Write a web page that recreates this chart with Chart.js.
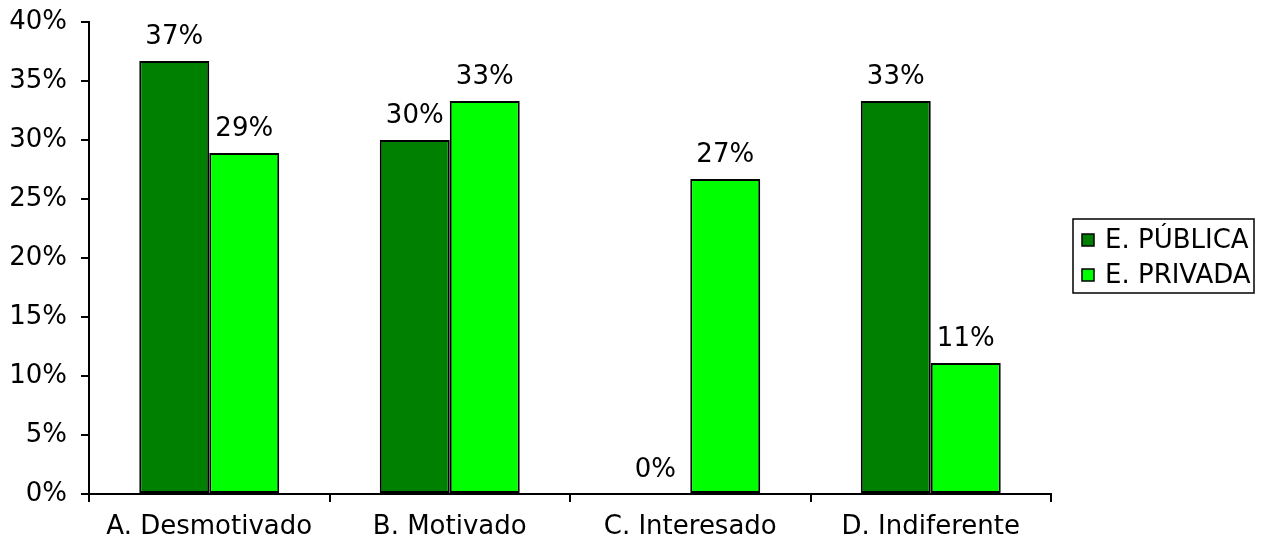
<!DOCTYPE html>
<html>
<head>
<meta charset="utf-8">
<script src="https://cdn.jsdelivr.net/npm/chart.js@4.4.1/dist/chart.umd.min.js"></script>
<style>
  html, body { margin: 0; padding: 0; background: #fff; }
  #wrap { width: 1263px; height: 540px; }
</style>
</head>
<body>
<div id="wrap"><canvas id="chart" width="1263" height="540"></canvas></div>
<script>
const categories = ['A. Desmotivado', 'B. Motivado', 'C. Interesado', 'D. Indiferente'];
const publica = [36.7, 30.0, 0, 33.3];
const privada = [28.9, 33.3, 26.7, 11.1];
const seriesNames = ['E. PÚBLICA', 'E. PRIVADA'];
const seriesColors = ['#008000', '#00FF00'];

const FONT = '"DejaVu Sans", Verdana, sans-serif';
const SIZE = 26;

// value labels above each bar
const barLabels = {
  id: 'barLabels',
  afterDatasetsDraw(chart) {
    const ctx = chart.ctx;
    ctx.save();
    ctx.font = SIZE + 'px ' + FONT;
    ctx.fillStyle = '#000';
    ctx.textAlign = 'center';
    ctx.textBaseline = 'alphabetic';
    chart.data.datasets.forEach((ds, i) => {
      chart.getDatasetMeta(i).data.forEach((bar, j) => {
        ctx.fillText(Math.round(ds.data[j]) + '%', bar.x, bar.y - 17);
      });
    });
    ctx.restore();
  }
};

// boxed legend on the right
const boxLegend = {
  id: 'boxLegend',
  afterDraw(chart) {
    const ctx = chart.ctx;
    const x = 1073, y = 219, w = 181, h = 74;
    ctx.save();
    ctx.lineWidth = 1.5;
    ctx.strokeStyle = '#000';
    ctx.strokeRect(x, y, w, h);
    ctx.font = SIZE + 'px ' + FONT;
    ctx.textBaseline = 'middle';
    ctx.textAlign = 'left';
    chart.data.datasets.forEach((ds, i) => {
      const cy = y + 21 + i * 35;
      ctx.fillStyle = ds.backgroundColor;
      ctx.fillRect(x + 9, cy - 6, 12, 12);
      ctx.lineWidth = 1.5;
      ctx.strokeRect(x + 9, cy - 6, 12, 12);
      ctx.fillStyle = '#000';
      ctx.fillText(ds.label, x + 32, cy + 1);
    });
    ctx.restore();
  }
};

new Chart(document.getElementById('chart'), {
  type: 'bar',
  data: {
    labels: categories,
    datasets: [
      { label: seriesNames[0], data: publica, backgroundColor: seriesColors[0], borderColor: '#000', borderWidth: 2, borderSkipped: false },
      { label: seriesNames[1], data: privada, backgroundColor: seriesColors[1], borderColor: '#000', borderWidth: 2, borderSkipped: false }
    ]
  },
  plugins: [barLabels, boxLegend],
  options: {
    responsive: false,
    animation: false,
    layout: { padding: { top: 22, right: 212, left: 0, bottom: 0 } },
    datasets: { bar: { categoryPercentage: 0.582, barPercentage: 1.0 } },
    plugins: { legend: { display: false }, tooltip: { enabled: false } },
    scales: {
      x: {
        offset: true,
        grid: { offset: true, drawOnChartArea: false, drawTicks: true, tickLength: 8, color: '#000', lineWidth: 2 },
        border: { display: true, color: '#000', width: 2 },
        ticks: { color: '#000', font: { family: FONT, size: SIZE }, padding: 10, maxRotation: 0 },
        afterFit(scale) { scale.height = 46; scale.paddingLeft = 0; scale.paddingRight = 0; }
      },
      y: {
        min: 0,
        max: 40,
        ticks: { stepSize: 5, color: '#000', font: { family: FONT, size: SIZE }, padding: 14, callback: v => v + '%' },
        grid: { drawOnChartArea: false, drawTicks: true, tickLength: 8, color: '#000', lineWidth: 2 },
        border: { display: true, color: '#000', width: 2 },
        afterFit(scale) { scale.width = 89; scale.paddingTop = 0; scale.paddingBottom = 0; }
      }
    }
  }
});
</script>
</body>
</html>
